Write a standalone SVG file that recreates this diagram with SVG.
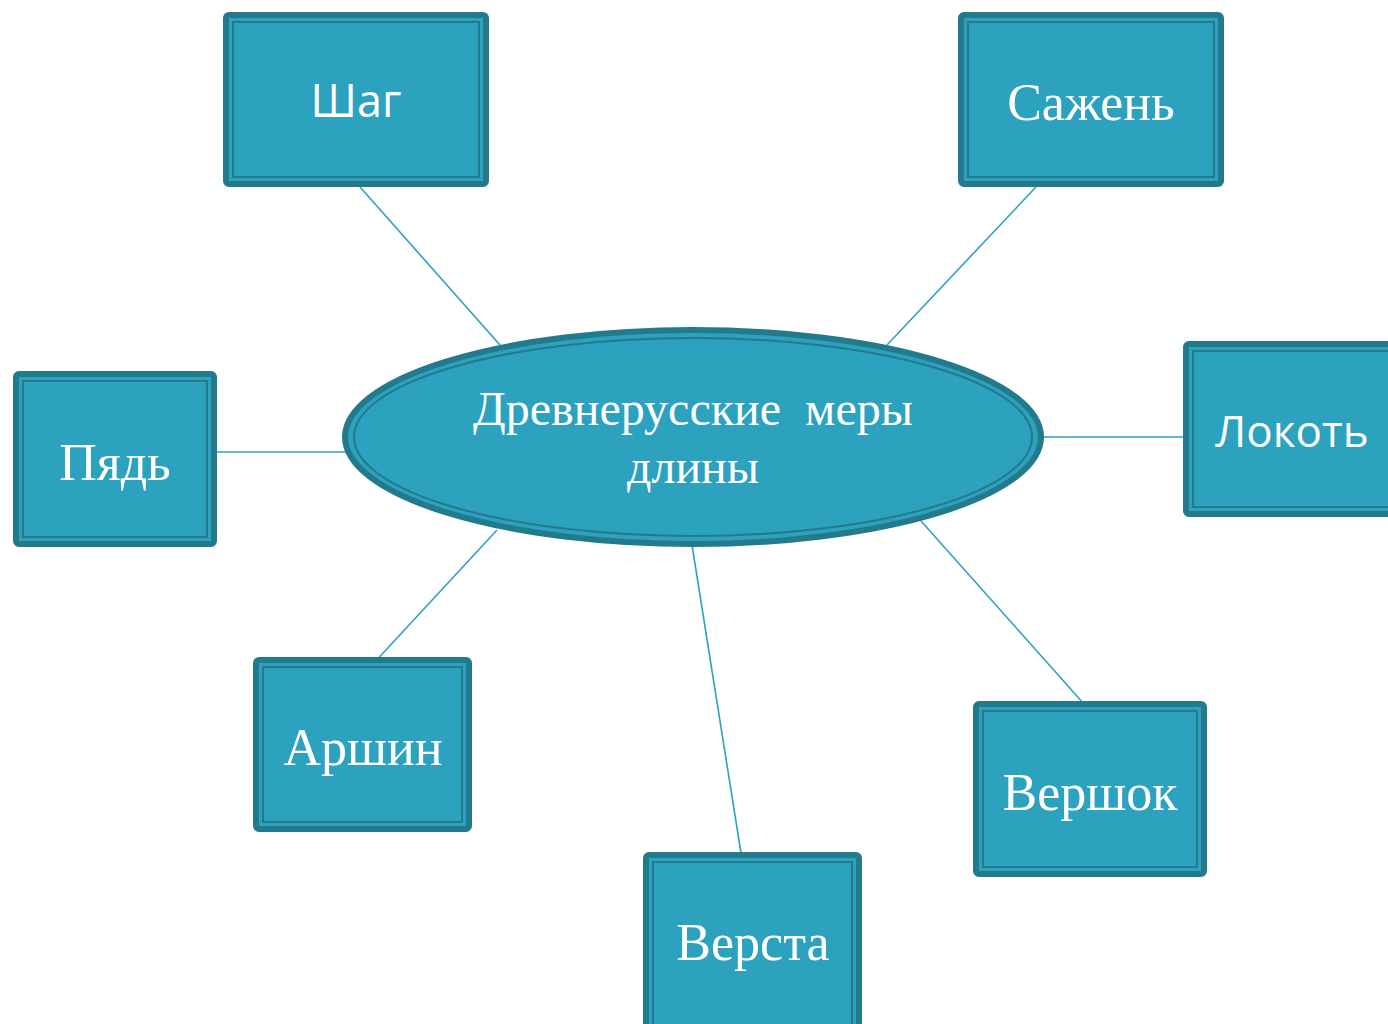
<svg xmlns="http://www.w3.org/2000/svg" width="1388" height="1024" viewBox="0 0 1388 1024">
<style>
.outer{fill:#2ca2bf;stroke:#237a8c;stroke-width:6}
.inner{fill:none;stroke:#237a8c;stroke-width:2}
.serif{font-family:"Liberation Serif","Times New Roman",serif;fill:#fff;text-anchor:middle}
.sans{font-family:"Open Sans","Liberation Sans",sans-serif;fill:#fff;text-anchor:middle}
.conn{stroke:#2ca2bf;stroke-width:1.6;fill:none}
</style>
<rect width="1388" height="1024" fill="#fff"/>
<g id="connectors">
<line class="conn" x1="360" y1="187" x2="500" y2="345"/>
<line class="conn" x1="1036" y1="187" x2="887" y2="345"/>
<line class="conn" x1="217" y1="452" x2="348" y2="452"/>
<line class="conn" x1="1042" y1="437" x2="1184" y2="437"/>
<line class="conn" x1="497" y1="530" x2="372" y2="665"/>
<line class="conn" x1="692" y1="545" x2="741" y2="853"/>
<line class="conn" x1="921" y1="521" x2="1092" y2="713"/>
</g>
<g id="center">
<ellipse cx="693" cy="437" rx="348" ry="107" fill="#2ca2bf" stroke="#237a8c" stroke-width="6"/>
<ellipse cx="693" cy="437" rx="339" ry="99" fill="none" stroke="#237a8c" stroke-width="2"/>
<text class="serif" font-size="48" x="693" y="425" xml:space="preserve">Древнерусские  меры</text>
<text class="serif" font-size="48" x="693" y="483">длины</text>
</g>
<g id="shag">
<rect class="outer" x="226" y="15" width="260" height="169" rx="3"/>
<rect class="inner" x="233" y="22" width="246" height="155"/>
<text class="sans" font-size="45" x="356" y="117">Шаг</text>
</g>
<g id="sazhen">
<rect class="outer" x="961" y="15" width="260" height="169" rx="3"/>
<rect class="inner" x="968" y="22" width="246" height="155"/>
<text class="serif" font-size="52" x="1091" y="120">Сажень</text>
</g>
<g id="pyad">
<rect class="outer" x="16" y="374" width="198" height="170" rx="3"/>
<rect class="inner" x="23" y="381" width="184" height="156"/>
<text class="serif" font-size="52" x="115" y="480">Пядь</text>
</g>
<g id="lokot">
<rect class="outer" x="1186" y="344" width="210" height="170" rx="3"/>
<rect class="inner" x="1193" y="351" width="210" height="156"/>
<text class="sans" font-size="44" x="1292" y="447">Локоть</text>
</g>
<g id="arshin">
<rect class="outer" x="256" y="660" width="213" height="169" rx="3"/>
<rect class="inner" x="263" y="667" width="199" height="155"/>
<text class="serif" font-size="52" x="363" y="765">Аршин</text>
</g>
<g id="versta">
<rect class="outer" x="646" y="855" width="213" height="180" rx="3"/>
<rect class="inner" x="653" y="862" width="199" height="165"/>
<text class="serif" font-size="52" x="753" y="960">Верста</text>
</g>
<g id="vershok">
<rect class="outer" x="976" y="704" width="228" height="170" rx="3"/>
<rect class="inner" x="983" y="711" width="214" height="156"/>
<text class="serif" font-size="52" x="1090" y="810">Вершок</text>
</g>
</svg>
